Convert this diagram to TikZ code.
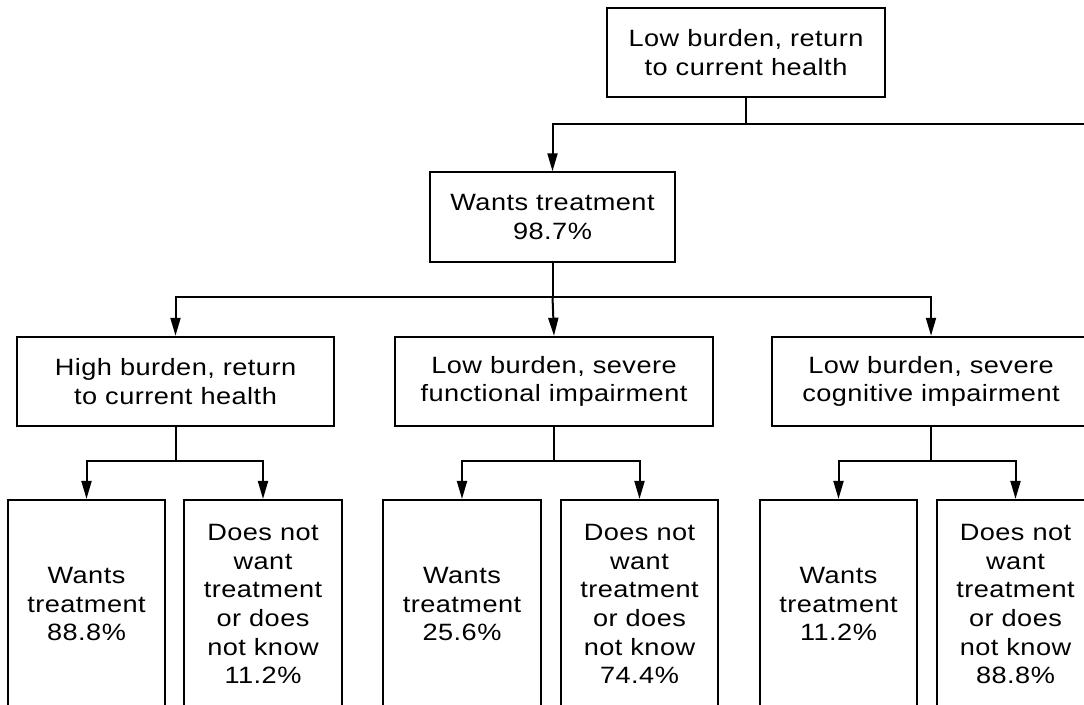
\documentclass[tikz,border=0pt]{standalone}
\usepackage{fontspec}
\setmainfont{Liberation Sans}[FakeStretch=1.15,LetterSpace=2]
\usetikzlibrary{arrows.meta}
\begin{document}
\begin{tikzpicture}[x=0.75pt,y=-0.75pt,
  box/.style={draw,line width=1.6pt,inner sep=0pt,align=center,
    font=\fontsize{17.7}{21.5}\selectfont},
  wide/.style={box,minimum height=67pt},
  tall/.style={box,minimum width=118pt,minimum height=156pt},
  link/.style={line width=1.5pt},
  arr/.style={link,-{Triangle[length=13.5pt,width=7.5pt]}}]
\useasboundingbox (0,0) rectangle (1084,704);
\clip (0,0) rectangle (1084,704);

% decision tree boxes
\node[wide,minimum width=208pt] (top) at (746,52.5) {Low burden, return\\to current health};
\node[wide,minimum width=184pt] (wt) at (552.5,217) {Wants treatment\\98.7\%};
\node[wide,minimum width=238pt] (hb) at (175.5,381.5) {High burden, return\\to current health};
\node[wide,minimum width=238pt] (lf) at (554,381.5) {Low burden, severe\\functional impairment};
\node[wide,minimum width=238pt] (lc) at (931,381.5) {Low burden, severe\\cognitive impairment};

\node[tall] (b1) at (86.5,604) {Wants\\treatment\\88.8\%};
\node[tall] (b2) at (263,604) {Does not\\want\\treatment\\or does\\not know\\11.2\%};
\node[tall] (b3) at (462,604) {Wants\\treatment\\25.6\%};
\node[tall] (b4) at (639.5,604) {Does not\\want\\treatment\\or does\\not know\\74.4\%};
\node[tall] (b5) at (838.5,604) {Wants\\treatment\\11.2\%};
\node[tall] (b6) at (1015.5,604) {Does not\\want\\treatment\\or does\\not know\\88.8\%};

% branch points
\coordinate (j0) at (746,124);
\coordinate (jr) at (1120,124);
\coordinate (j1) at (552.5,297);
\coordinate (j2) at (175.5,461);
\coordinate (j3) at (554,461);
\coordinate (j4) at (931,461);

% connectors
\draw[link] (top.south) -- (j0) -- (jr);
\draw[arr] (j0) -| (wt.north);
\draw[link] (wt.south) -- (j1);
\draw[arr] (j1) -| (hb.north);
\draw[arr] (j1) -- (lf.north);
\draw[arr] (j1) -| (lc.north);
\draw[link] (hb.south) -- (j2);
\draw[arr] (j2) -| (b1.north);
\draw[arr] (j2) -| (b2.north);
\draw[link] (lf.south) -- (j3);
\draw[arr] (j3) -| (b3.north);
\draw[arr] (j3) -| (b4.north);
\draw[link] (lc.south) -- (j4);
\draw[arr] (j4) -| (b5.north);
\draw[arr] (j4) -| (b6.north);
\end{tikzpicture}
\end{document}
